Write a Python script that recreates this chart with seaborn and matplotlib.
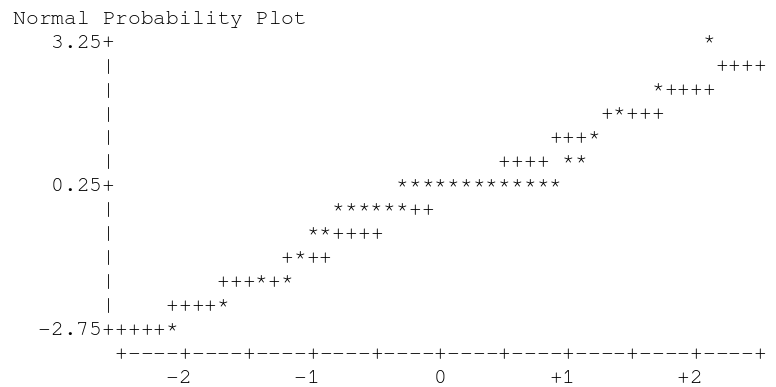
import matplotlib
matplotlib.use("Agg")
import matplotlib.pyplot as plt
from matplotlib import font_manager
import seaborn as sns

# Normal quantile (x) and observed value (y) for each plotted observation ("*")
star_x = [2.1, 1.7, 1.4, 1.2, 1.0, 1.1,
          -0.3, -0.2, -0.1, 0.0, 0.1, 0.2, 0.3, 0.4, 0.5, 0.6, 0.7, 0.8, 0.9,
          -0.8, -0.7, -0.6, -0.5, -0.4, -0.3,
          -1.0, -0.9, -1.1, -1.4, -1.2, -1.7, -2.1]
star_y = [3.25, 2.25, 1.75, 1.25, 0.75, 0.75,
          0.25, 0.25, 0.25, 0.25, 0.25, 0.25, 0.25, 0.25, 0.25, 0.25, 0.25, 0.25, 0.25,
          -0.25, -0.25, -0.25, -0.25, -0.25, -0.25,
          -0.75, -0.75, -1.25, -1.75, -1.75, -2.25, -2.75]

# Reference normal line ("+") cells
ref_x = [2.2, 2.3, 2.4, 2.5,
         1.8, 1.9, 2.0, 2.1,
         1.3, 1.5, 1.6, 1.7,
         0.9, 1.0, 1.1,
         0.5, 0.6, 0.7, 0.8,
         -0.2, -0.1,
         -0.8, -0.7, -0.6, -0.5,
         -1.2, -1.0, -0.9,
         -1.7, -1.6, -1.5, -1.3,
         -2.1, -2.0, -1.9, -1.8,
         -2.5, -2.4, -2.3, -2.2]
ref_y = [2.75, 2.75, 2.75, 2.75,
         2.25, 2.25, 2.25, 2.25,
         1.75, 1.75, 1.75, 1.75,
         1.25, 1.25, 1.25,
         0.75, 0.75, 0.75, 0.75,
         -0.25, -0.25,
         -0.75, -0.75, -0.75, -0.75,
         -1.25, -1.25, -1.25,
         -1.75, -1.75, -1.75, -1.75,
         -2.25, -2.25, -2.25, -2.25,
         -2.75, -2.75, -2.75, -2.75]

y_ticks = [3.25, 0.25, -2.75]
y_tick_labels = ["3.25", "0.25", "-2.75"]
x_ticks = [-2, -1, 0, 1, 2]
x_tick_labels = ["-2", "-1", "0", "+1", "+2"]
title = "Normal Probability Plot"

# Line-printer grid: one character cell is 0.1 units wide and 0.5 units tall
CW, RH = 0.1, 0.5
X_MIN, X_MAX = -2.5, 2.5          # extent of the horizontal axis
Y_TOP, Y_BOT = 3.25, -2.75        # extent of the vertical axis
AXIS_X = X_MIN - CW               # column holding the vertical axis
AXIS_Y = Y_BOT - RH               # row holding the horizontal axis

sns.set_theme(style="white")

# prefer a Courier-style typewriter face when one is installed
installed = {f.name for f in font_manager.fontManager.ttflist}
mono = next((n for n in ["Nimbus Mono PS", "Courier New", "Courier", "FreeMono",
                         "Liberation Mono"] if n in installed), "DejaVu Sans Mono")
plt.rcParams["font.family"] = [mono, "DejaVu Sans Mono"]

fig = plt.figure(figsize=(7.76, 3.87), dpi=100)
ax = fig.add_axes([0, 0, 1, 1])
ax.set_xlim(-3.446, 2.626)
ax.set_ylim(-3.917, 4.146)
ax.axis("off")

FS = 15.3


def put(x, y, ch):
    ax.text(x, y, ch, ha="center", va="center", fontsize=FS, color="black")


def put_string(x_start, y, s):
    for i, ch in enumerate(s):
        if ch != " ":
            put(x_start + i * CW, y, ch)


# title on the top line
put_string(AXIS_X - 7 * CW, Y_TOP + RH, title)

# vertical axis with tick marks and right-aligned labels
n_rows = int(round((Y_TOP - Y_BOT) / RH)) + 1
tick_rows = {round(t, 2) for t in y_ticks}
for i in range(n_rows):
    y = Y_TOP - i * RH
    put(AXIS_X, y, "+" if round(y, 2) in tick_rows else "|")
for t, lab in zip(y_ticks, y_tick_labels):
    put_string(AXIS_X - len(lab) * CW, t, lab)

# horizontal axis, a "+" every half unit
n_cols = int(round((X_MAX - X_MIN) / CW)) + 1
for j in range(n_cols):
    put(X_MIN + j * CW, AXIS_Y, "+" if j % 5 == 0 else "-")
for t, lab in zip(x_ticks, x_tick_labels):
    put_string(t - (len(lab) - 1) * CW, AXIS_Y - RH, lab)

# reference line, then the observations on top
for x, y in zip(ref_x, ref_y):
    put(x, y, "+")
for x, y in zip(star_x, star_y):
    put(x, y, "*")

fig.savefig("out.png", dpi=100, facecolor="white")
